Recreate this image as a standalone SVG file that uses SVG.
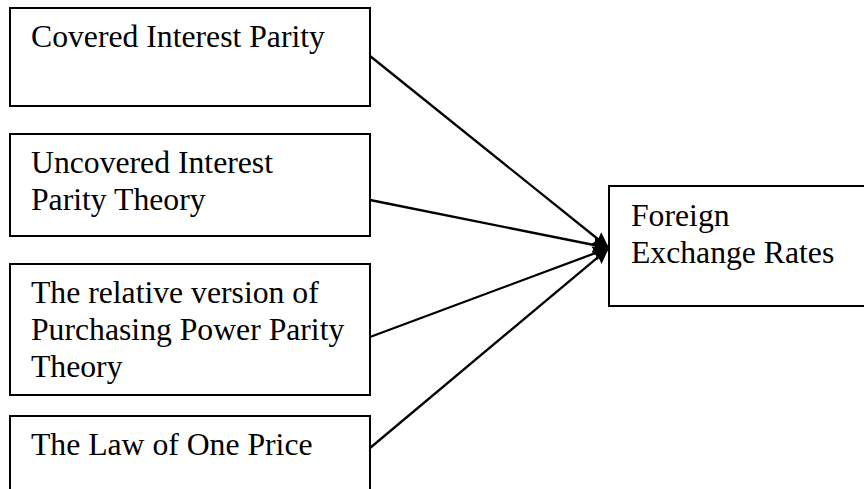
<svg xmlns="http://www.w3.org/2000/svg" width="864" height="489" viewBox="0 0 864 489">
<style>
.box{fill:#fff;stroke:#000;stroke-width:2}
.t{font-family:"Liberation Serif","Times New Roman",serif;font-size:31.7px;fill:#000}
.c{stroke:#000;stroke-width:2.3;fill:none;marker-end:url(#ah)}
</style>
<defs>
<marker id="ah" markerUnits="userSpaceOnUse" markerWidth="18" markerHeight="18" refX="16" refY="9" orient="auto">
<path d="M0,1.5 L16,9 L0,16.5 L2,9 Z" fill="#000"/>
</marker>
</defs>
<rect width="864" height="489" fill="#fff"/>
<g id="n1"><rect class="box" x="10" y="8" width="360" height="98"/><text class="t" x="31" y="47">Covered Interest Parity</text></g>
<g id="n2"><rect class="box" x="10" y="134" width="360" height="102"/><text class="t" x="31" y="173">Uncovered Interest</text><text class="t" x="31" y="209.5">Parity Theory</text></g>
<g id="n3"><rect class="box" x="10" y="264" width="360" height="131"/><text class="t" x="31" y="303">The relative version of</text><text class="t" x="31" y="340">Purchasing Power Parity</text><text class="t" x="31" y="377">Theory</text></g>
<g id="n4"><path class="box" d="M10,495 V416 H370 V495"/><text class="t" x="31" y="455">The Law of One Price</text></g>
<g id="n5"><path class="box" d="M870,186 H609 V306 H870"/><text class="t" x="631" y="226">Foreign</text><text class="t" x="631" y="263">Exchange Rates</text></g>
<g id="connectors">
<line class="c" x1="370" y1="56" x2="609" y2="248"/>
<line class="c" x1="370" y1="200" x2="609" y2="248"/>
<line class="c" x1="370" y1="337" x2="609" y2="248"/>
<line class="c" x1="370" y1="448" x2="609" y2="248"/>
</g>
</svg>
